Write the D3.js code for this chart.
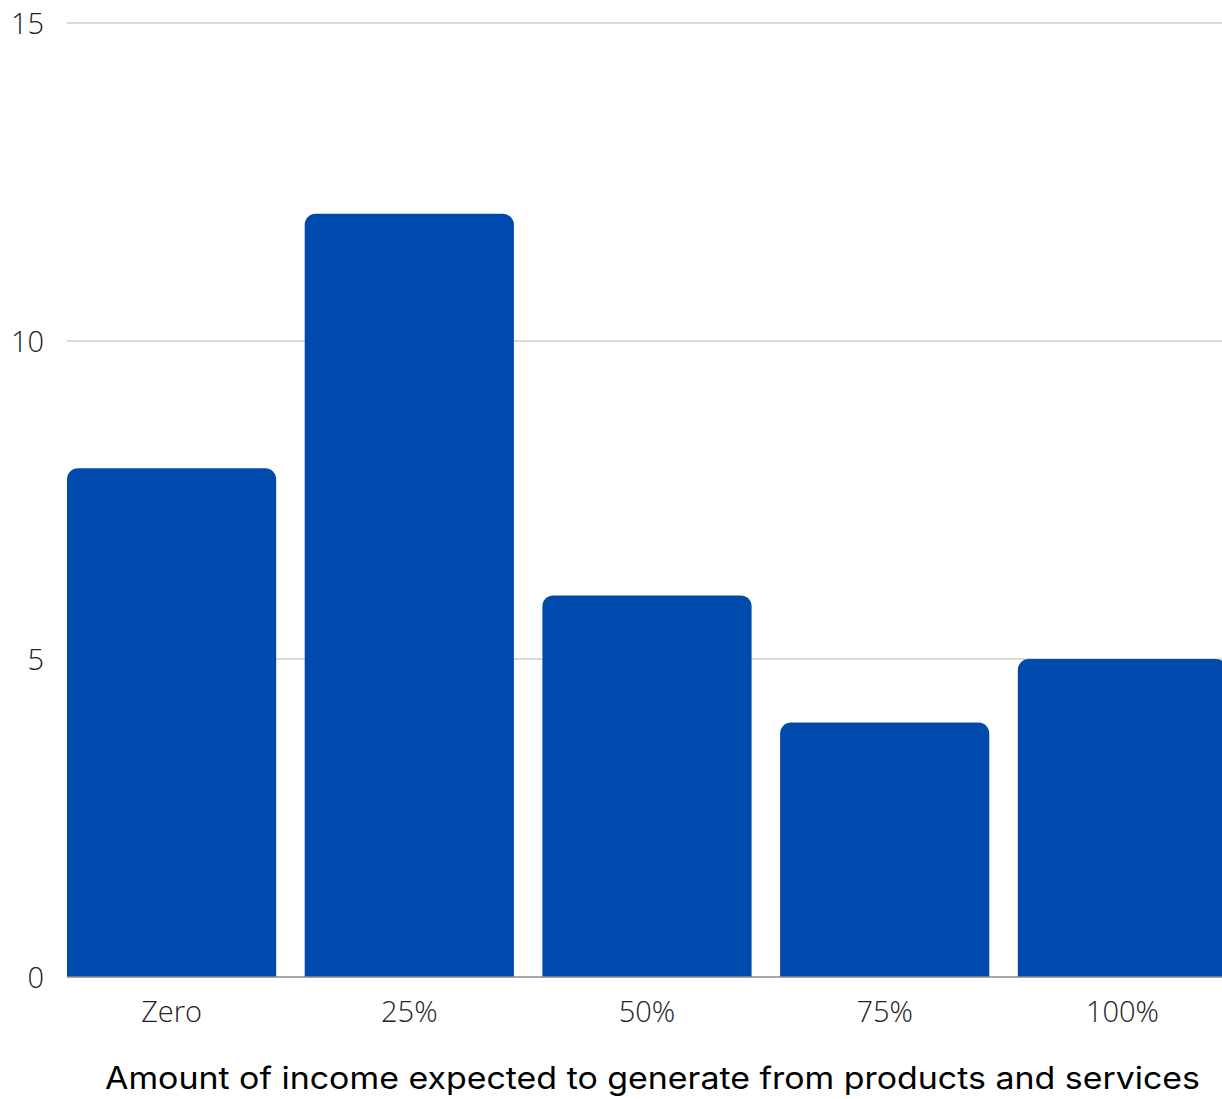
<!DOCTYPE html>
<html>
<head>
<meta charset="utf-8">
<script src="https://cdn.jsdelivr.net/npm/d3@7"></script>
<style>
  html, body { margin: 0; padding: 0; background: #fff; overflow: hidden; }
  svg { display: block; }
</style>
</head>
<body>
<svg id="chart" width="1222" height="1099"></svg>
<script>
// Survey answers: expected share of income from products and services
const categories = ["Zero", "25%", "50%", "75%", "100%"];
const counts = [8, 12, 6, 4, 5];
const yTicks = [0, 5, 10, 15];
const xTitle = "Amount of income expected to generate from products and services";

const svg = d3.select("#chart");
const plotLeft = 67, plotRight = 1227, plotTop = 23, plotBottom = 977;

const x = d3.scaleBand()
  .domain(categories)
  .range([plotLeft, plotRight])
  .paddingInner(0.12)
  .paddingOuter(0);

const y = d3.scaleLinear()
  .domain([0, 15])
  .range([plotBottom, plotTop]);

// Horizontal gridlines
svg.append("g")
  .selectAll("line")
  .data(yTicks.filter(d => d !== 0))
  .join("line")
  .attr("x1", plotLeft).attr("x2", 1222)
  .attr("y1", d => y(d)).attr("y2", d => y(d))
  .attr("stroke", "#cccccc")
  .attr("stroke-width", 1.3);

// Y axis labels
const yAxis = d3.axisLeft(y).tickValues(yTicks).tickSize(0).tickPadding(0);
svg.append("g")
  .attr("transform", `translate(44,0)`)
  .call(yAxis)
  .call(g => g.select(".domain").remove())
  .call(g => g.selectAll("text")
    .attr("font-family", "'Open Sans', sans-serif")
    .attr("font-weight", 300)
    .attr("font-size", 29)
    .attr("fill", "#222")
    .attr("dy", "0.35em"));

// Bars with rounded top corners
const r = 11;
function barPath(x0, w, yTop, yBase) {
  const rr = Math.min(r, (yBase - yTop), w / 2);
  return `M${x0},${yBase}V${yTop + rr}A${rr},${rr} 0 0 1 ${x0 + rr},${yTop}` +
         `H${x0 + w - rr}A${rr},${rr} 0 0 1 ${x0 + w},${yTop + rr}V${yBase}Z`;
}
svg.append("g")
  .selectAll("path")
  .data(categories.map((c, i) => ({ c, v: counts[i] })))
  .join("path")
  .attr("d", d => barPath(x(d.c), x.bandwidth(), y(d.v), y(0)))
  .attr("fill", "#004aad");

// Baseline
svg.append("line")
  .attr("x1", plotLeft).attr("x2", 1222)
  .attr("y1", y(0)).attr("y2", y(0))
  .attr("stroke", "#8a8a8a")
  .attr("stroke-width", 1.5);

// X axis labels
const xAxis = d3.axisBottom(x).tickSize(0).tickPadding(0);
svg.append("g")
  .attr("transform", `translate(0,${plotBottom + 24})`)
  .call(xAxis)
  .call(g => g.select(".domain").remove())
  .call(g => g.selectAll("text")
    .attr("font-family", "'Open Sans', sans-serif")
    .attr("font-weight", 300)
    .attr("font-size", 29)
    .attr("fill", "#222")
    .attr("dy", "0.71em"));

// X axis title
svg.append("text")
  .attr("x", 105)
  .attr("y", 1089)
  .attr("textLength", 1095)
  .attr("lengthAdjust", "spacingAndGlyphs")
  .attr("font-family", "Inter, sans-serif")
  .attr("font-size", 31)
  .attr("fill", "#000")
  .text(xTitle);
</script>
</body>
</html>
